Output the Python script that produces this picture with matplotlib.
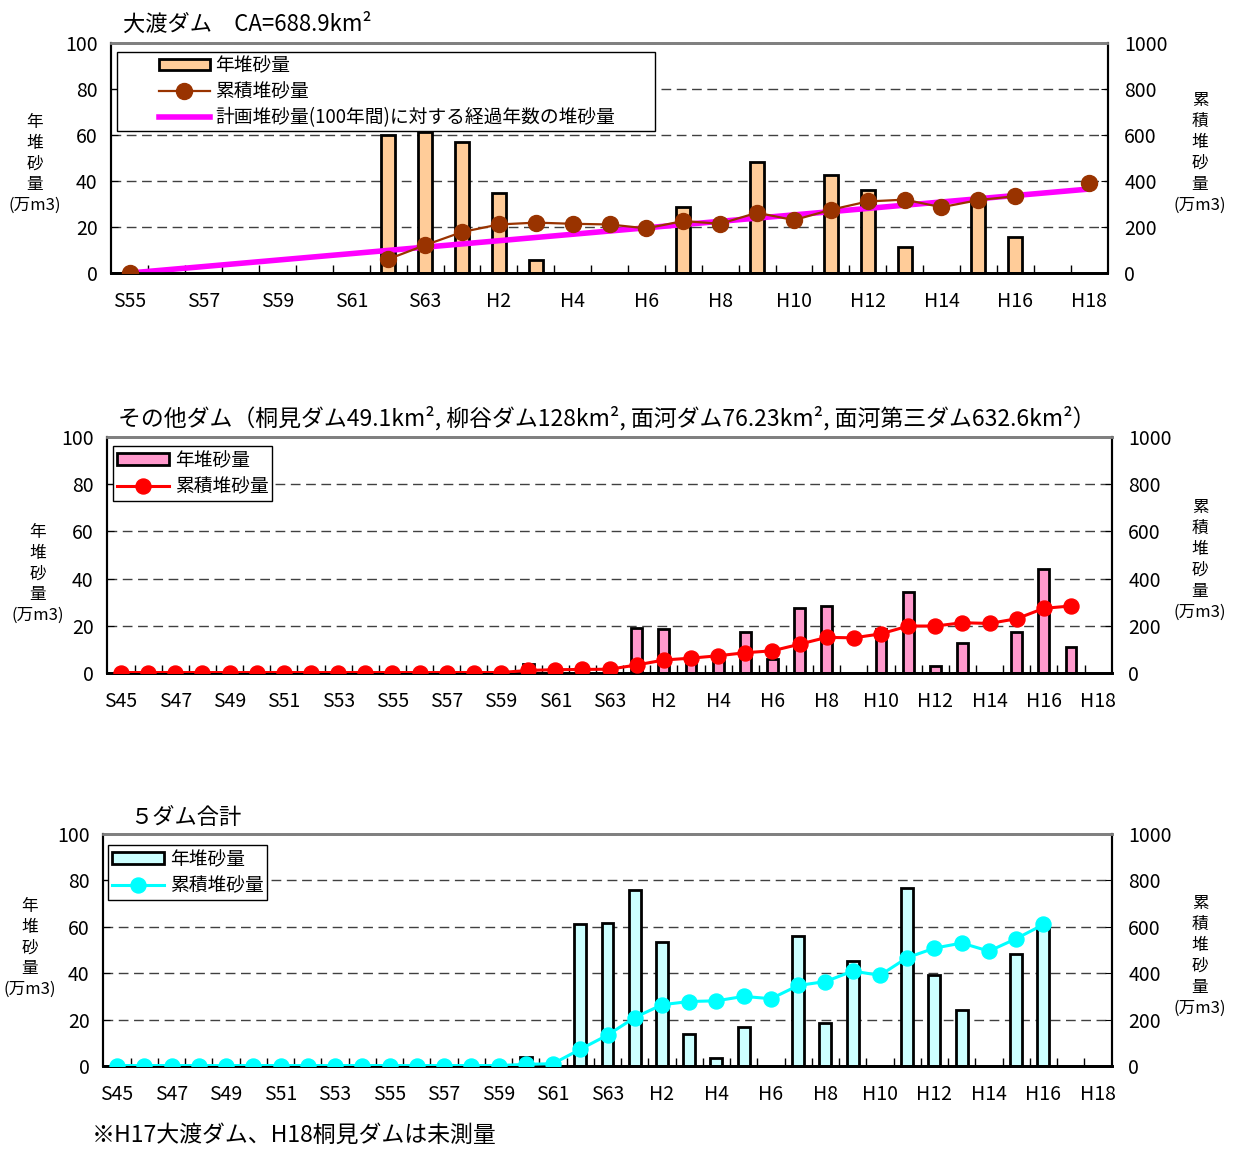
import numpy as np
import matplotlib
matplotlib.use("Agg")
import matplotlib.pyplot as plt
from matplotlib.patches import Rectangle

plt.rcParams['font.family'] = ['Noto Sans CJK JP', 'DejaVu Sans']

nan = np.nan
W, H = 1238, 1150

# 年の区分
years_short = [f"S{y}" for y in range(55, 64)] + [f"H{y}" for y in range(1, 19)]
years_long = [f"S{y}" for y in range(45, 64)] + [f"H{y}" for y in range(1, 19)]

# 大渡ダム (S55-H18)
oodo_annual = [nan, nan, nan, nan, nan, nan, nan, 60, 61.5, 57, 35, 5.8, nan, nan, nan,
               28.7, nan, 48.2, nan, 42.6, 35.9, 11.5, nan, 32, 15.7, nan, nan]
oodo_cumul = [0, nan, nan, nan, nan, nan, nan, 60, 121, 178, 211, 219, 214, 211, 194,
              226, 214, 262, 230, 275, 311, 319, 286, 317, 334, nan, 391]
oodo_plan_x = ['S55', 'H18']
oodo_plan = [0, 365]

# その他ダム (S45-H18)
other_annual = [nan] * 15 + [3.8, nan, nan, nan, 19, 18.8, 7, 6, 17.3, 6, 27.4, 28.6, nan,
                             18.7, 34.3, 3.1, 12.8, nan, 17.4, 44, 11.2, nan]
other_cumul = [2] * 15 + [11, 14, 15, 16, 34, 55, 63, 73, 86, 94, 122, 151, 149,
                          166, 199, 199, 213, 210, 230, 274, 284, nan]

# 5ダム合計 (S45-H18)
total_annual = [nan] * 15 + [3.9, nan, 61, 61.8, 76, 53.5, 13.8, 3.6, 16.6, nan, 56, 18.4, 45.2,
                             nan, 76.6, 39.1, 24.1, nan, 48.4, 59.3, nan, nan]
total_cumul = [2] * 15 + [7, 10, 72, 133, 209, 264, 278, 281, 300, 290, 347, 364, 409,
                          391, 467, 508, 530, 495, 549, 610, nan, nan]


def fig_rect(l, t, r, b):
    return [l / W, 1 - b / H, (r - l) / W, (b - t) / H]


def draw_panel(rect, years, annual, cumul, bar_color, line_color, bar_w, msize, lw):
    ax = fig.add_axes(fig_rect(*rect))
    n = len(years)
    x = np.arange(n)
    bars = ax.bar(x, annual, width=bar_w, color=bar_color, edgecolor='black',
                  linewidth=2, zorder=2, label='年堆砂量')
    ax.set_xlim(-0.5, n - 0.5)
    ax.set_ylim(0, 100)
    ax.set_yticks(range(0, 101, 20))
    ax.set_axisbelow(True)
    ax.yaxis.grid(True, linestyle=(0, (7, 4)), color='#404040', linewidth=1)
    ax.set_xticks(x[::2])
    ax.set_xticklabels(years[::2], fontsize=14)
    ax.set_xticks(np.arange(0.5, n - 1, 1), minor=True)
    ax.tick_params(axis='x', which='major', length=0, pad=13)
    ax.tick_params(axis='x', which='minor', direction='in', length=6, width=1)
    ax.tick_params(axis='y', direction='in', length=5, labelsize=14, pad=10)

    ax2 = ax.twinx()
    line, = ax2.plot(x, cumul, color=line_color, marker='o', markersize=msize,
                     linewidth=lw, zorder=3, label='累積堆砂量')
    ax2.set_ylim(0, 1000)
    ax2.set_yticks(range(0, 1001, 200))
    ax2.tick_params(axis='y', direction='in', length=5, labelsize=14, pad=12)
    for a in (ax, ax2):
        a.spines['top'].set_color('#808080')
        a.spines['top'].set_linewidth(2)
        a.spines['bottom'].set_linewidth(2)
        a.spines['left'].set_linewidth(1.5)
        a.spines['right'].set_linewidth(1.5)
    return ax, ax2, bars, line


def side_labels(xl, yl, xr, yr):
    fig.text(xl / W, 1 - yl / H, '年\n堆\n砂\n量\n(万m3)', fontsize=12, ha='center',
             va='center', linespacing=1.3)
    fig.text(xr / W, 1 - yr / H, '累\n積\n堆\n砂\n量\n(万m3)', fontsize=12, ha='center',
             va='center', linespacing=1.3)


def small_legend(ax2, handles, left, top):
    leg = ax2.legend(handles=handles, loc='upper left',
                     bbox_to_anchor=(left / W, 1 - top / H), bbox_transform=fig.transFigure,
                     fontsize=13.5, handlelength=2.8, handleheight=0.55, handletextpad=0.3,
                     labelspacing=0.3, borderpad=0.2, borderaxespad=0, fancybox=False,
                     framealpha=1, edgecolor='black')
    leg.get_frame().set_linewidth(1)
    return leg


fig = plt.figure(figsize=(W / 100, H / 100), dpi=100)

# ---- 大渡ダム ----
ax, ax2, bars, line = draw_panel((111.5, 43, 1107.5, 273), years_short, oodo_annual, oodo_cumul,
                                 '#FFCC99', '#993300', 0.38, 11.5, 1.6)
plan_idx = [years_short.index(y) for y in oodo_plan_x]
plan, = ax2.plot(plan_idx, oodo_plan, color='#FF00FF', linewidth=4, zorder=2.5,
                 label='計画堆砂量(100年間)に対する経過年数の堆砂量')
ax2.add_patch(Rectangle((117 / W, 1 - 131 / H), (655 - 117) / W, (131 - 52) / H,
                        transform=fig.transFigure, facecolor='white', edgecolor='black',
                        linewidth=1, clip_on=False, zorder=5))
leg = ax2.legend(handles=[bars, line, plan], loc='upper left',
                 bbox_to_anchor=(146 / W, 1 - 42 / H), bbox_transform=fig.transFigure,
                 frameon=False, fontsize=13.5, handlelength=2.7, handleheight=0.55,
                 handletextpad=0.3, labelspacing=0.26, borderpad=0.2)
leg.set_zorder(6)
fig.text(123 / W, 1 - 24 / H, '大渡ダム　CA=688.9km²', fontsize=16, ha='left', va='center')
side_labels(35, 164, 1200, 153)

# ---- その他ダム ----
ax, ax2, bars, line = draw_panel((107.4, 437, 1111.7, 673), years_long, other_annual, other_cumul,
                                 '#FF99CC', '#FF0000', 0.4, 10.8, 2.2)
small_legend(ax2, [bars, line], 113, 446)
fig.text(118 / W, 1 - 418 / H,
         'その他ダム（桐見ダム49.1km², 柳谷ダム128km², 面河ダム76.23km², 面河第三ダム632.6km²）',
         fontsize=16.5, ha='left', va='center')
side_labels(38, 574, 1200, 560)

# ---- 5ダム合計 ----
ax, ax2, bars, line = draw_panel((103.4, 834, 1111.6, 1066), years_long, total_annual, total_cumul,
                                 '#CCFFFF', '#00FFFF', 0.44, 10.8, 2.2)
small_legend(ax2, [bars, line], 108, 845)
fig.text(130 / W, 1 - 818 / H, '５ダム合計', fontsize=16, ha='left', va='center')
side_labels(30, 948, 1200, 956)

fig.text(92 / W, 1 - 1135 / H, '※H17大渡ダム、H18桐見ダムは未測量', fontsize=16.5,
         ha='left', va='center')

fig.savefig('out.png', dpi=100)
